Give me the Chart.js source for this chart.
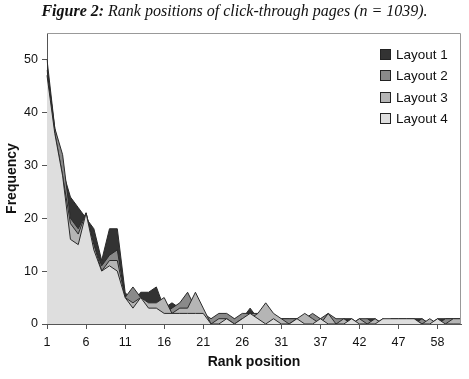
<!DOCTYPE html>
<html lang="en">
<head>
<meta charset="UTF-8">
<title>Rank positions of click-through pages</title>
<script src="https://cdn.jsdelivr.net/npm/chart.js"></script>
<style>
   body { margin: 0; background: #fff; }
   .wrap { position: relative; width: 469px; height: 379px; }
   .titulo {
      position: absolute; left: 0; top: 2px; width: 469px; text-align: center;
      font-family: "Liberation Serif", serif; font-style: italic; font-size: 16px; color: #111;
   }
   .legenda {
      position: absolute; left: 380px; top: 44px;
      font-family: "Liberation Sans", Arial, sans-serif; font-size: 13.5px; color: #111;
   }
   .legenda div { height: 21.3px; display: flex; align-items: center; }
   .legenda span.box { width: 9px; height: 9px; border: 1px solid #222; margin-right: 5px; display: inline-block; }
</style>
</head>
<body>
<div class="wrap">
   <canvas id="myChart" width="469" height="379"></canvas>
   <div class="titulo"><b>Figure 2:</b> Rank positions of click-through pages (n = 1039).</div>
   <div class="legenda" id="legenda"></div>
</div>
<script>
   // rank positions (categories), only every 5th is labelled
   var ranks = [1, 2, 3, 4, 5, 6, 7, 8, 9, 10, 11, 12, 13, 14, 15, 16, 17, 18, 19, 20,
      21, 22, 23, 24, 25, 26, 27, 28, 29, 30, 31, 32, 33, 34, 35, 37, 38, 39, 40, 41,
      42, 43, 44, 45, 46, 47, 48, 50, 52, 55, 58, 60, 63, 70];

   var layout1 = [50, 37, 29, 24, 22, 20, 18, 12, 18, 18, 6, 4, 6, 6, 7, 3, 4, 3, 2, 2,
      1, 1, 1, 1, 1, 1, 3, 1, 1, 0, 1, 1, 1, 1, 1, 1, 1, 0, 1, 1,
      0, 1, 1, 0, 1, 1, 1, 1, 1, 0, 1, 1, 1, 1];
   var layout2 = [48, 37, 32, 20, 18, 21, 15, 11, 13, 14, 5, 7, 5, 3, 3, 2, 3, 4, 6, 3,
      2, 1, 2, 2, 1, 2, 2, 2, 1, 1, 1, 1, 1, 1, 2, 1, 2, 1, 1, 0,
      1, 1, 0, 1, 0, 0, 0, 0, 1, 0, 0, 1, 1, 1];
   var layout3 = [47, 36, 28, 19, 17, 21, 15, 10, 12, 12, 5, 4, 5, 4, 4, 5, 2, 3, 3, 6,
      3, 0, 1, 1, 0, 1, 1, 2, 4, 2, 1, 0, 1, 2, 1, 0, 2, 0, 1, 0,
      1, 0, 1, 0, 0, 0, 0, 1, 0, 1, 0, 0, 1, 1];
   var layout4 = [47, 36, 28, 16, 15, 21, 14, 10, 11, 10, 5, 3, 5, 3, 3, 2, 2, 2, 2, 2,
      2, 0, 0, 1, 0, 1, 2, 1, 0, 1, 0, 0, 1, 0, 0, 1, 0, 0, 0, 1,
      0, 0, 0, 1, 1, 1, 1, 1, 0, 0, 1, 0, 0, 0];

   var nomes = ["Layout 1", "Layout 2", "Layout 3", "Layout 4"];
   var cores = ["#333333", "#8a8a8a", "#b5b5b5", "#dedede"];
   var series = [layout1, layout2, layout3, layout4];

   var datasets = [];
   for (var i = 0; i < series.length; i++) {
      datasets.push({
         label: nomes[i],
         data: series[i],
         backgroundColor: cores[i],
         borderColor: "#2a2a2a",
         borderWidth: 1,
         fill: "origin",
         tension: 0,
         pointRadius: 0,
         order: series.length - i   // layout 4 drawn in front
      });
   }

   // legend as html
   var leg = document.getElementById("legenda");
   for (var i = 0; i < nomes.length; i++) {
      leg.innerHTML += '<div><span class="box" style="background:' + cores[i] + '"></span>' + nomes[i] + '</div>';
   }

   // grey frame round the plot area
   var moldura = {
      id: "moldura",
      afterDatasetsDraw: function (chart) {
         var a = chart.chartArea, ctx = chart.ctx;
         ctx.save();
         ctx.strokeStyle = "#999";
         ctx.lineWidth = 1;
         ctx.beginPath();
         ctx.moveTo(a.left, a.top + 0.5);
         ctx.lineTo(a.right - 0.5, a.top + 0.5);
         ctx.lineTo(a.right - 0.5, a.bottom);
         ctx.stroke();
         ctx.restore();
      }
   };

   var fonte = "'Liberation Sans', Arial, sans-serif";

   new Chart(document.getElementById("myChart"), {
      type: "line",
      data: { labels: ranks, datasets: datasets },
      options: {
         responsive: false,
         animation: false,
         layout: { padding: { top: 33, right: 8, left: 0, bottom: 0 } },
         plugins: { legend: { display: false }, tooltip: { enabled: false } },
         scales: {
            x: {
               offset: false,
               grid: { drawOnChartArea: false, tickLength: 5, color: "#555" },
               border: { color: "#555" },
               ticks: { autoSkip: false, maxRotation: 0, padding: 6, color: "#111", font: { family: fonte, size: 12.5 } },
               afterBuildTicks: function (scale) {
                  scale.ticks = scale.ticks.filter(function (t) { return t.value % 5 === 0; });
               },
               afterFit: function (scale) { scale.height = 55; },
               title: { display: true, text: "Rank position", color: "#111", padding: { top: 4, bottom: 8 },
                  font: { family: fonte, size: 14, weight: "bold" } }
            },
            y: {
               min: 0, max: 55,
               grid: { drawOnChartArea: false, tickLength: 5, color: "#555" },
               border: { color: "#555" },
               ticks: { stepSize: 10, padding: 4, color: "#111", font: { family: fonte, size: 12.5 } },
               afterBuildTicks: function (scale) {
                  scale.ticks = scale.ticks.filter(function (t) { return t.value % 10 === 0; });
               },
               afterFit: function (scale) { scale.width = 47; },
               title: { display: true, text: "Frequency", color: "#111", padding: { top: 4, bottom: 4 },
                  font: { family: fonte, size: 14, weight: "bold" } }
            }
         }
      },
      plugins: [moldura]
   });
</script>
</body>
</html>
